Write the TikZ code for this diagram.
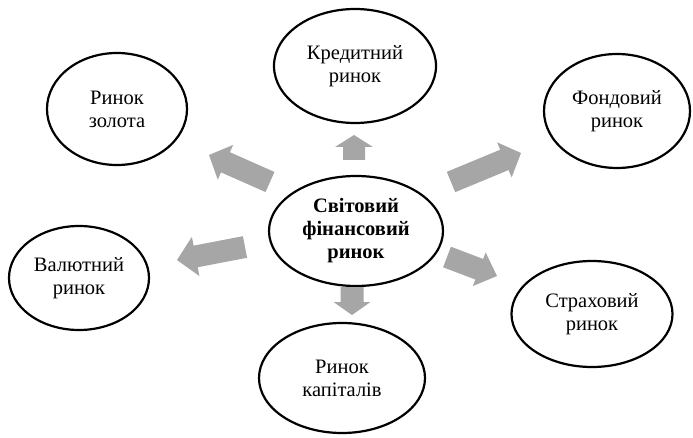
\documentclass[tikz,border=0pt]{standalone}
\usepackage{fontspec}
\setmainfont{Liberation Serif}
\usetikzlibrary{shapes.geometric,calc}
\definecolor{arrowgray}{HTML}{A6A6A6}
\tikzset{
  mkt/.style={ellipse, draw, line width=2.2pt, inner sep=0pt, align=center,
    font=\fontsize{20.5}{23}\selectfont},
  hub/.style={mkt, font=\fontsize{20.5}{23}\selectfont\bfseries},
  arrowfill/.style={fill=arrowgray},
}
% tail, tip, shaft half width, head half width, head length, head-base name
\newcommand\blockarrow[6]{%
  \coordinate (#6) at ($(#2)!#5!(#1)$);
  \fill[arrowfill] ($(#1)!#3!90:(#2)$) -- ($(#6)!#3!90:(#2)$) -- ($(#6)!#4!90:(#2)$)
    -- (#2) -- ($(#6)!#4!-90:(#2)$) -- ($(#6)!#3!-90:(#2)$) -- ($(#1)!#3!-90:(#2)$) -- cycle;
}
\begin{document}
\begin{tikzpicture}[x=1pt,y=-1pt]
\useasboundingbox (0,0) rectangle (693,438);
\node[hub, minimum width=174pt, minimum height=110pt] (world) at (356,231) {Світовий\\фінансовий\\ринок};
\node[mkt, minimum width=162pt, minimum height=114pt] (credit) at (355,66) {Кредитний\\ринок};
\node[mkt, minimum width=140pt, minimum height=112pt] (gold) at (117,109) {Ринок\\золота};
\node[mkt, minimum width=146pt, minimum height=114pt] (stock) at (617,111) {Фондовий\\ринок};
\node[mkt, minimum width=140pt, minimum height=104pt] (fx) at (79,278) {Валютний\\ринок};
\node[mkt, minimum width=161pt, minimum height=106pt] (ins) at (592,314) {Страховий\\ринок};
\node[mkt, minimum width=166pt, minimum height=110pt] (cap) at (342,378) {Ринок\\капіталів};

\coordinate (upT) at (354,160);   \coordinate (upP) at (354,135);
\coordinate (dnT) at (352,287);   \coordinate (dnP) at (352,315);
\coordinate (ulT) at (270,182);   \coordinate (ulP) at (209,155);
\coordinate (lfT) at (245,247);   \coordinate (lfP) at (177,260);
\coordinate (urT) at (451,182);   \coordinate (urP) at (521,153);
\coordinate (drT) at (447,257);   \coordinate (drP) at (497,276);

\blockarrow{upT}{upP}{11pt}{19pt}{12pt}{upH}
\blockarrow{dnT}{dnP}{11.5pt}{18.5pt}{13pt}{dnH}
\blockarrow{ulT}{ulP}{11pt}{19pt}{18pt}{ulH}
\blockarrow{lfT}{lfP}{11pt}{20pt}{19pt}{lfH}
\blockarrow{urT}{urP}{11pt}{19pt}{18pt}{urH}
\blockarrow{drT}{drP}{11pt}{18pt}{19pt}{drH}
\end{tikzpicture}
\end{document}
